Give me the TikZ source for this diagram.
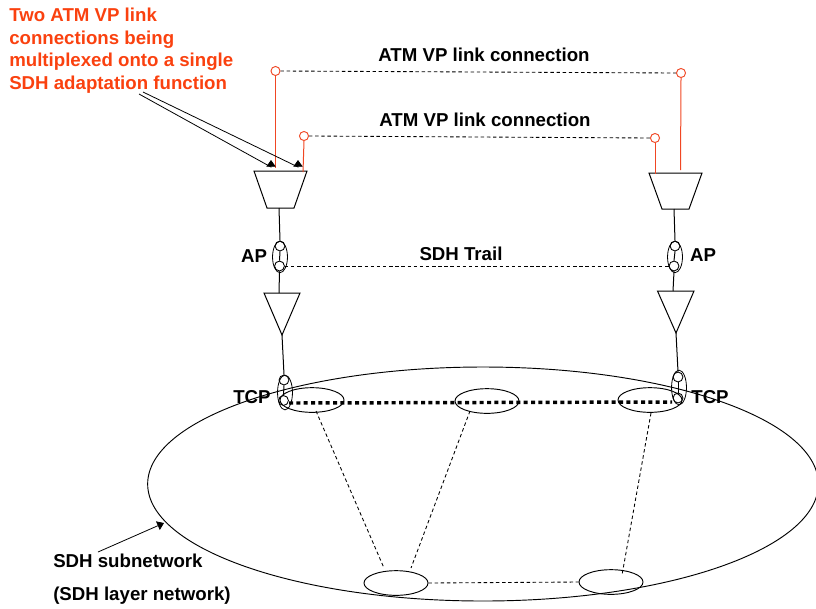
\documentclass[tikz,border=0pt]{standalone}
\usepackage{fontspec}
\setmainfont{Liberation Sans}
\usetikzlibrary{shapes.geometric,arrows.meta}
\definecolor{redline}{RGB}{240,70,35}
\definecolor{redtext}{RGB}{250,65,15}
\tikzset{
  x=0.75pt,y=-0.75pt,
  label text/.style={font=\bfseries\fontsize{14}{16}\selectfont,inner sep=0pt,text=black},
  red label/.style={font=\bfseries\fontsize{14}{16.9}\selectfont,inner sep=0pt,text=redtext,align=left,anchor=north west},
  port/.style={circle,draw=black,line width=0.65pt,minimum size=7.4pt,inner sep=0pt},
  redport/.style={circle,draw=redline,line width=0.7pt,minimum size=6.8pt,inner sep=0pt},
  group/.style={ellipse,draw=black,line width=0.6pt,minimum width=11.2pt,inner sep=0pt},
  conn/.style={ellipse,draw=black,line width=0.7pt,minimum width=48pt,minimum height=18.5pt,inner sep=0pt},
  solidline/.style={draw=black,line width=0.75pt},
  redwire/.style={draw=redline,line width=0.75pt},
  dashline/.style={draw=black,line width=0.65pt,dash pattern=on 2.6pt off 2pt},
  thick dots/.style={draw=black,line width=2.6pt,dash pattern=on 3pt off 2.5pt},
  pointer/.style={draw=black,line width=0.6pt,-{Triangle[length=5pt,width=7pt]}}
}
\begin{document}
\begin{tikzpicture}
\useasboundingbox (0,0) rectangle (816,608);
\clip (0,0) rectangle (816,608);
% subnetwork
\node[ellipse,draw=black,line width=0.7pt,minimum width=503pt,minimum height=175.5pt,inner sep=0pt] (net) at (483,484) {};
\node[conn] (a) at (312,400) {};
\node[conn] (b) at (487,401) {};
\node[conn] (c) at (650,400) {};
\node[conn] (d) at (396,583) {};
\node[conn] (e) at (611,582) {};
\draw[dashline] (d.east) -- (e.west);
\coordinate (a1) at (316,411); \coordinate (d1) at (384,568);
\coordinate (b1) at (470,411); \coordinate (d2) at (411,568);
\coordinate (c1) at (651,413); \coordinate (e1) at (622,575);
\draw[dashline] (a1) -- (d1);
\draw[dashline] (b1) -- (d2);
\draw[dashline] (c1) -- (e1);
% left column
\coordinate (tl1) at (254,171); \coordinate (tl2) at (307,171);
\coordinate (tl3) at (294,208); \coordinate (tl4) at (267,208);
\draw[solidline] (tl1) -- (tl2) -- (tl3) -- (tl4) -- cycle;
\coordinate (tlb) at (279,208);
\node[group,minimum height=23.5pt] (apLg) at (280,257) {};
\node[port] (apL1) at (280,246) {};
\node[port] (apL2) at (279.5,266) {};
\coordinate (vl1) at (264,293); \coordinate (vl2) at (300,293); \coordinate (vl3) at (282,335);
\draw[solidline] (vl1) -- (vl2) -- (vl3) -- cycle;
\coordinate (vlt) at (279,293);
\node[group,minimum height=26pt] (tcpLg) at (285,392.5) {};
\node[port] (tcpL1) at (284,380) {};
\node[port] (tcpL2) at (283.5,400.5) {};
\draw[solidline] (tlb) -- (apL1.north);
\draw[solidline] (apL1.south) -- (apL2.north);
\draw[solidline] (apL2.south) -- (vlt);
\draw[solidline] (vl3) -- (tcpL1.north);
\draw[solidline] (tcpL1.south) -- (tcpL2.north);
% right column
\coordinate (tr1) at (649,173); \coordinate (tr2) at (702,173);
\coordinate (tr3) at (689,209); \coordinate (tr4) at (662,209);
\draw[solidline] (tr1) -- (tr2) -- (tr3) -- (tr4) -- cycle;
\coordinate (trb) at (674,209);
\node[group,minimum height=23.5pt] (apRg) at (675,257) {};
\node[port] (apR1) at (675,246) {};
\node[port] (apR2) at (674,266) {};
\coordinate (vr1) at (657.5,291); \coordinate (vr2) at (694,291); \coordinate (vr3) at (676,333);
\draw[solidline] (vr1) -- (vr2) -- (vr3) -- cycle;
\coordinate (vrt) at (673,291);
\node[group,minimum height=26pt] (tcpRg) at (679,387.5) {};
\node[port] (tcpR1) at (678,377) {};
\node[port] (tcpR2) at (678,398) {};
\draw[solidline] (trb) -- (apR1.north);
\draw[solidline] (apR1.south) -- (apR2.north);
\draw[solidline] (apR2.south) -- (vrt);
\draw[solidline] (vr3) -- (tcpR1.north);
\draw[solidline] (tcpR1.south) -- (tcpR2.north);
% trails
\draw[dashline] (apL2.east) -- (apR2.west);
\coordinate (tdL) at (289,403); \coordinate (tdR) at (672,402);
\draw[thick dots] (tdL) -- (tdR);
% red link connections
\node[redport] (r1) at (275.5,71) {};
\node[redport] (r2) at (304,136) {};
\node[redport] (r3) at (681,73) {};
\node[redport] (r4) at (655,138) {};
\coordinate (r1b) at (275.5,168); \coordinate (r2b) at (303,172);
\coordinate (r3b) at (680.5,170); \coordinate (r4b) at (655,174);
\draw[redwire] (r1.south) -- (r1b);
\draw[redwire] (r2.south) -- (r2b);
\draw[redwire] (r3.south) -- (r3b);
\draw[redwire] (r4.south) -- (r4b);
\draw[dashline] (r1.east) -- (r3.west);
\draw[dashline] (r2.east) -- (r4.west);
% labels
\node[label text] (l1) at (484,55) {ATM VP link connection};
\node[label text] (l2) at (485,120) {ATM VP link connection};
\node[label text] (l3) at (461,254) {SDH Trail};
\node[label text] (apl) at (254,256) {AP};
\node[label text] (apr) at (703,255) {AP};
\node[label text] (tcpl) at (252,397) {TCP};
\node[label text] (tcpr) at (710,397) {TCP};
\node[label text,anchor=west] (s1) at (53,561) {SDH subnetwork};
\node[label text,anchor=west] (s2) at (53,596) {(SDH layer network)};
\node[red label] (note) at (9,8) {Two ATM VP link\\connections being\\multiplexed onto a single\\SDH adaptation function};
\coordinate (p1) at (139,94); \coordinate (p2) at (143,92);
\coordinate (q1) at (271,167); \coordinate (q2) at (298,167);
\coordinate (q1t) at (271,160); \coordinate (q2t) at (298,160);
\draw[pointer] (p1) -- (q1) -- (q1t);
\draw[pointer] (p2) -- (q2) -- (q2t);
\coordinate (s0) at (98,552); \coordinate (s3) at (164,523);
\draw[pointer] (s0) -- (s3);
\end{tikzpicture}
\end{document}
